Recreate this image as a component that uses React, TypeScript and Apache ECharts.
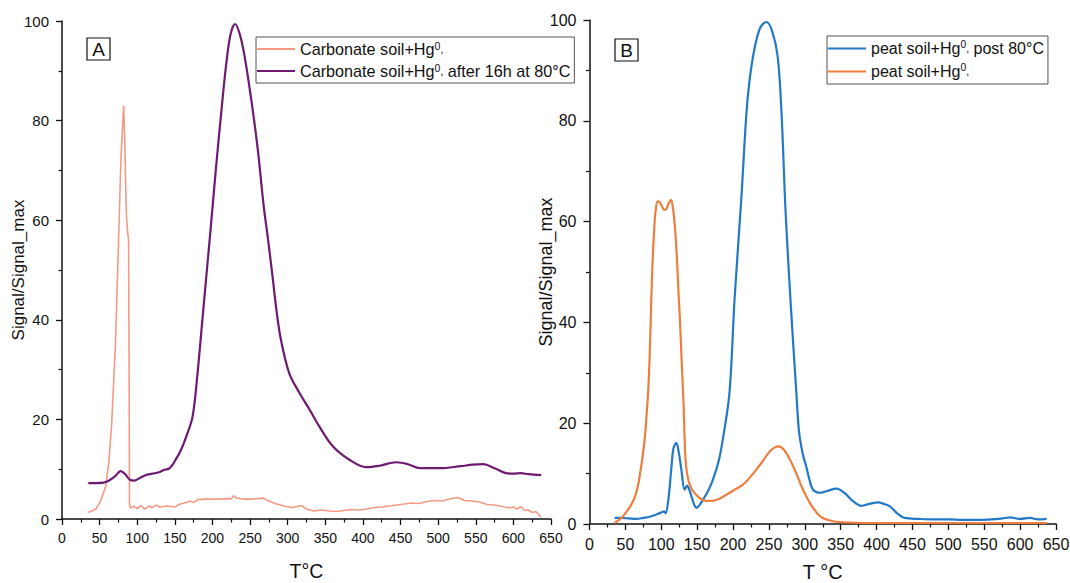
import React, { useEffect, useRef } from "react";
import * as echarts from "echarts";

// Thermo-desorption curves, normalised signal (%) vs temperature (°C)
const carbonateFresh: [number, number][] = [
  [35, 1.3], [45, 2.0], [51, 3.5], [58, 6.5], [62, 11], [66, 19], [71, 35], [75, 55],
  [78.5, 73], [82, 83], [83.5, 76], [85, 64], [86, 60], [87, 58], [88.5, 56],
  [89.2, 30], [89.7, 3], [91, 2.2], [95, 2.6], [100, 2.1], [105, 2.7], [110, 2.0],
  [115, 2.6], [120, 2.3], [125, 2.8], [130, 2.4], [140, 2.6], [150, 2.4], [155, 2.9],
  [160, 3.1], [165, 3.3], [170, 3.6], [175, 3.3], [180, 3.9], [190, 4.0], [200, 4.0],
  [210, 4.0], [220, 4.1], [225, 4.0], [228, 4.7], [232, 4.2], [240, 4.0], [250, 4.0],
  [260, 4.1], [268, 4.2], [275, 3.6], [285, 3.0], [295, 2.6], [305, 2.3], [312, 2.5],
  [318, 2.7], [325, 2.0], [335, 1.6], [345, 1.8], [355, 1.6], [365, 1.5], [375, 1.7],
  [385, 1.9], [395, 1.8], [405, 2.0], [415, 2.3], [425, 2.4], [435, 2.6], [445, 2.8],
  [455, 3.0], [465, 3.2], [475, 3.1], [485, 3.5], [495, 3.7], [505, 3.6], [515, 4.0],
  [526, 4.3], [535, 3.7], [545, 3.6], [555, 3.4], [565, 2.9], [575, 2.8], [585, 2.5],
  [595, 2.2], [600, 2.4], [605, 2.0], [610, 2.5], [615, 1.7], [620, 1.8], [625, 1.3],
  [630, 1.5], [635, 0.6], [637, 0.4],
];

const carbonateHeated: [number, number][] = [
  [35, 7.2], [45, 7.2], [55, 7.3], [62, 7.7], [70, 8.5], [78, 9.6], [84, 9.0], [90, 7.9],
  [96, 7.7], [103, 8.2], [111, 8.8], [120, 9.1], [129, 9.4], [136, 9.9], [142, 10.1],
  [147, 10.9], [151, 11.9], [158, 13.8], [165, 16.5], [173.5, 20.5], [180, 29],
  [186, 39], [192, 49], [198, 59], [204.7, 70.5], [211.4, 81.2], [218, 91],
  [224, 97.3], [230, 99.4], [236, 97.5], [242.4, 93.2], [251.3, 84.5], [260, 74.5],
  [268, 63], [274, 56], [280, 48.5], [285, 42], [291, 36], [302, 29.3],
  [315.7, 25.3], [329, 22], [342, 18.6], [360, 14.6], [382, 11.9], [404.5, 10.4],
  [422, 10.7], [444.5, 11.4], [460, 11.0], [475.5, 10.2], [502, 10.2], [530, 10.6],
  [546, 10.9], [560, 11.0], [575, 10.2], [590, 9.2], [600, 9.1], [610, 9.2], [620, 9.0],
  [637, 8.8],
];

const peatHeated: [number, number][] = [
  [35, 1.2], [45, 1.2], [55, 1.1], [65, 1.0], [75, 1.2], [85, 1.5], [95, 2.0], [100, 2.3],
  [104, 2.5], [106, 2.1], [110, 5], [114, 11], [117, 15], [121, 16.1], [124, 14.5],
  [128, 10.8], [132.5, 6.8], [136, 7.6], [139, 6.8], [142, 5.5], [146, 3.8], [149, 3.2],
  [153, 3.7], [158, 4.8], [165, 6.5], [172, 8.8], [180, 12.5], [186, 17], [195, 26],
  [202.2, 44.8], [211.6, 64.7], [218.5, 81.2], [223, 88], [230, 94.4], [238, 98.5],
  [246.5, 99.6], [254, 98], [262, 93], [267.4, 82], [273.4, 61.4], [281.3, 41.5],
  [288, 26.6], [291.9, 18.4], [297, 14], [302, 11.4], [307, 8.5], [311.5, 6.8],
  [321, 6.2], [330, 6.5], [344, 7.0], [355, 6.2], [365, 4.8], [379, 3.6], [390, 4.0],
  [402, 4.3], [410, 4.0], [418.5, 3.5], [428, 2.2], [439, 1.2], [460, 1.0], [480, 0.9],
  [500, 0.9], [520, 0.8], [540, 0.8], [560, 0.9], [575, 1.1], [586, 1.3], [600, 1.0],
  [614, 1.2], [625, 0.9], [637, 1.0],
];

const peatFresh: [number, number][] = [
  [35, 0.2], [40, 0.7], [46.5, 1.5], [52, 2.5], [58, 3.8], [63, 5.3], [67.4, 7.5],
  [71, 10.5], [74, 13.4], [77, 17], [79, 20.5], [82, 27], [84, 34], [86, 44],
  [88, 52.4], [90, 58], [92, 62], [95, 64], [98, 63.8], [101, 63], [104, 62.3],
  [107, 62.5], [110, 63.5], [113.5, 64.3], [116, 63], [119, 59], [121.4, 53.8],
  [124, 46], [126, 40.5], [128.5, 32], [131, 24], [133.5, 13.4], [136, 10], [139, 8.1],
  [143, 6.8], [148.5, 5.8], [155, 5.0], [162.7, 4.6], [172, 4.6], [181, 5.0],
  [190.6, 5.8], [200, 6.6], [213.8, 7.8], [222, 9.0], [232.5, 10.8], [242, 12.6],
  [251, 14.4], [258, 15.2], [264, 15.4], [269, 15.0], [274, 14.1], [281, 12.3],
  [288, 10.1], [295, 7.6], [302, 5.5], [307, 4.2], [311.5, 3.2], [318, 2.0], [325, 1.2],
  [335, 0.7], [344, 0.45], [360, 0.3], [400, 0.2], [450, 0.2], [500, 0.2], [550, 0.2],
  [600, 0.2], [637, 0.2],
];

// Legend entries: series id -> rich-text label (superscript 0 on Hg)
const legendLabels: Record<string, string> = {
  carbFresh: "Carbonate soil+Hg{sup|0}{c|,}",
  carbHeated: "Carbonate soil+Hg{sup|0}{c|,} after 16h at 80°C",
  peatHeated: "peat soil+Hg{sup|0}{c|,} post 80°C",
  peatFresh: "peat soil+Hg{sup|0}{c|,}",
};

const FONT = "'Liberation Sans', Arial, sans-serif";

function axisX(
  gridIndex: number, name: string, fontSize: number, nameSize: number, nameGap: number, labelMargin: number,
) {
  return {
    type: "value",
    gridIndex,
    min: 0,
    max: 650,
    interval: 50,
    name,
    nameLocation: "middle",
    nameGap,
    nameMoveOverlap: false,
    nameTextStyle: { fontFamily: FONT, fontSize: nameSize, color: "#111" },
    axisLine: { show: true, onZero: false, lineStyle: { color: "#111", width: 1.5 } },
    axisTick: { show: true, inside: false, length: 6, lineStyle: { color: "#111", width: 1.3 } },
    minorTick: { show: true, splitNumber: 2, length: 3.5, lineStyle: { color: "#111", width: 1.2 } },
    splitLine: { show: false },
    axisLabel: {
      fontFamily: FONT, fontSize, color: "#111", margin: labelMargin, showMinLabel: true, showMaxLabel: true,
    },
  };
}

function axisY(gridIndex: number, fontSize: number, nameSize: number, nameGap: number) {
  return {
    type: "value",
    gridIndex,
    min: 0,
    max: 100,
    interval: 20,
    name: "Signal/Signal_max",
    nameLocation: "middle",
    nameGap,
    nameMoveOverlap: false,
    nameTextStyle: { fontFamily: FONT, fontSize: nameSize, color: "#111" },
    axisLine: { show: true, onZero: false, lineStyle: { color: "#111", width: 1.5 } },
    axisTick: { show: true, inside: false, length: 6, lineStyle: { color: "#111", width: 1.3 } },
    minorTick: { show: true, splitNumber: 2, length: 3.5, lineStyle: { color: "#111", width: 1.2 } },
    splitLine: { show: false },
    axisLabel: { fontFamily: FONT, fontSize, color: "#111", margin: 13 },
  };
}

function legendBox(ids: string[], left: number, top: number, fontSize: number, lineHeight: number, gap: number) {
  return {
    data: ids,
    orient: "vertical",
    left,
    top,
    icon: "rect",
    itemWidth: 38,
    itemHeight: 2,
    itemGap: gap,
    padding: [3, 4, 3, 1],
    borderColor: "#555",
    borderWidth: 1,
    backgroundColor: "#fff",
    formatter: (name: string) => legendLabels[name],
    textStyle: {
      fontFamily: FONT,
      fontSize,
      lineHeight,
      color: "#111",
      rich: {
        sup: { fontFamily: FONT, fontSize: fontSize * 0.65, verticalAlign: "top", lineHeight, padding: [0, 0, 7, 0] },
        c: { fontFamily: FONT, fontSize: fontSize * 0.65, lineHeight },
      },
    },
  };
}

function panelTag(letter: string, x: number, y: number) {
  return {
    type: "group",
    children: [
      { type: "rect", shape: { x, y, width: 23, height: 22 }, style: { fill: "#fff", stroke: "#111", lineWidth: 1.2 } },
      {
        type: "text",
        x: x + 11.5,
        y: y + 11.5,
        style: { text: letter, fontFamily: FONT, fontSize: 19, fill: "#111", align: "center", verticalAlign: "middle" },
      },
    ],
  };
}

export default function App() {
  const ref = useRef<HTMLDivElement>(null);

  useEffect(() => {
    if (!ref.current) return;
    const chart = echarts.init(ref.current, null, { renderer: "svg" });
    const lineSeries = (
      id: string, data: [number, number][], color: string, width: number, idx: number, smooth: number | boolean,
    ) => ({
      type: "line",
      name: id,
      data,
      xAxisIndex: idx,
      yAxisIndex: idx,
      showSymbol: false,
      symbol: "none",
      smooth,
      lineStyle: { color, width },
      itemStyle: { color },
      z: 3,
    });

    chart.setOption({
      animation: false,
      backgroundColor: "#fff",
      grid: [
        { left: 62, top: 21, width: 489, height: 498, outerBoundsMode: "none" },
        { left: 589.5, top: 20, width: 466.5, height: 504, outerBoundsMode: "none" },
      ],
      xAxis: [axisX(0, "T°C", 14, 19.5, 42, 12), axisX(1, "T °C", 16, 20, 38, 12)],
      yAxis: [axisY(0, 15, 17, 35), axisY(1, 16, 18, 35)],
      legend: [
        legendBox(["carbFresh", "carbHeated"], 256, 37, 16.2, 18, 4),
        legendBox(["peatHeated", "peatFresh"], 827, 36, 16, 19, 4),
      ],
      graphic: [panelTag("A", 87, 38), panelTag("B", 615, 39)],
      series: [
        lineSeries("carbFresh", carbonateFresh, "#f59a82", 1.6, 0, false),
        lineSeries("carbHeated", carbonateHeated, "#6e1a72", 2.2, 0, 0.35),
        lineSeries("peatHeated", peatHeated, "#2479c6", 2.2, 1, 0.35),
        lineSeries("peatFresh", peatFresh, "#ee7e3e", 2.2, 1, 0.35),
      ],
    });
    return () => chart.dispose();
  }, []);

  return (
    <div
      ref={ref}
      style={{ position: "absolute", left: 0, top: 0, width: 1070, height: 583, background: "#fff" }}
    />
  );
}
